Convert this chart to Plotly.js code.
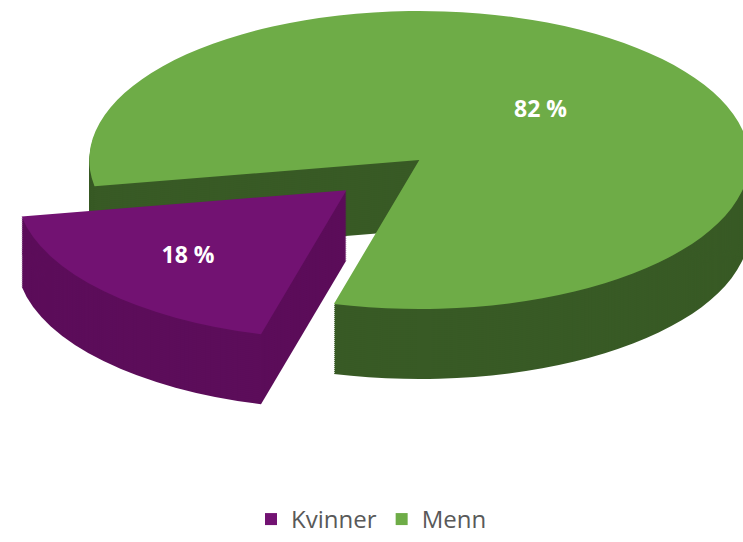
<!DOCTYPE html>
<html>
<head>
<meta charset="utf-8">
<script src="https://cdn.plot.ly/plotly-3.0.1.min.js"></script>
<style>
html,body{margin:0;padding:0;background:#fff;overflow:hidden;}
#chart{width:743px;height:542px;}
</style>
</head>
<body>
<div id="chart"></div>
<script>
// Data
const labels = ['Kvinner', 'Menn'];
const values = [18, 82];
const topColors = ['#721272', '#6eac47'];
const sideColors = ['#5c0d5a', '#385a25'];
const pulls = [0.27, 0.03];

// 3D look settings (visual only)
const target = {cx: 412, cy: 163, rx: 330, ry: 149};
const depths = [];
for (let d = 70; d > 0; d -= 2) depths.push(d);

const common = {
  type: 'pie',
  labels: labels,
  values: values,
  sort: false,
  direction: 'clockwise',
  rotation: 195,
  pull: pulls,
  hoverinfo: 'skip',
  domain: {x: [0, 1], y: [0.1, 1]}
};

const traces = [];
depths.forEach(function () {
  traces.push(Object.assign({}, common, {
    marker: {colors: sideColors, line: {width: 0}},
    textinfo: 'none',
    showlegend: false
  }));
});
traces.push(Object.assign({}, common, {
  marker: {colors: topColors, line: {width: 0}},
  texttemplate: '%{value} %',
  textposition: 'inside',
  insidetextorientation: 'horizontal',
  textfont: {color: '#ffffff', size: 23, family: 'Open Sans, sans-serif', weight: 'bold'},
  showlegend: true
}));

const layout = {
  width: 743,
  height: 542,
  margin: {l: 0, r: 0, t: 0, b: 0},
  paper_bgcolor: '#ffffff',
  showlegend: true,
  legend: {
    orientation: 'h', x: 0.5, xanchor: 'center', y: 0.035, yanchor: 'top',
    font: {family: 'Open Sans, sans-serif', size: 24, color: '#595959'},
    traceorder: 'normal'
  },
  font: {family: 'Open Sans, sans-serif'}
};

Plotly.newPlot('chart', traces, layout, {staticPlot: true}).then(function (gd) {
  const groups = gd.querySelectorAll('.pielayer .trace');
  groups.forEach(function (g, i) {
    const cd0 = gd.calcdata[i][0];
    const r = cd0.r, cx = cd0.cx, cy = cd0.cy;
    const sx = target.rx / r, sy = target.ry / r;
    const off = i < depths.length ? depths[i] : 0;
    g.setAttribute('transform',
      'translate(' + target.cx + ',' + (target.cy + off) + ') scale(' + sx + ',' + sy + ') translate(' + (-cx) + ',' + (-cy) + ')');
    g.querySelectorAll('text').forEach(function (t) {
      const tr = t.getAttribute('transform') || '';
      t.setAttribute('transform', tr + ' scale(' + (1 / sx) + ',' + (1 / sy) + ')');
    });
  });
});
</script>
</body>
</html>
